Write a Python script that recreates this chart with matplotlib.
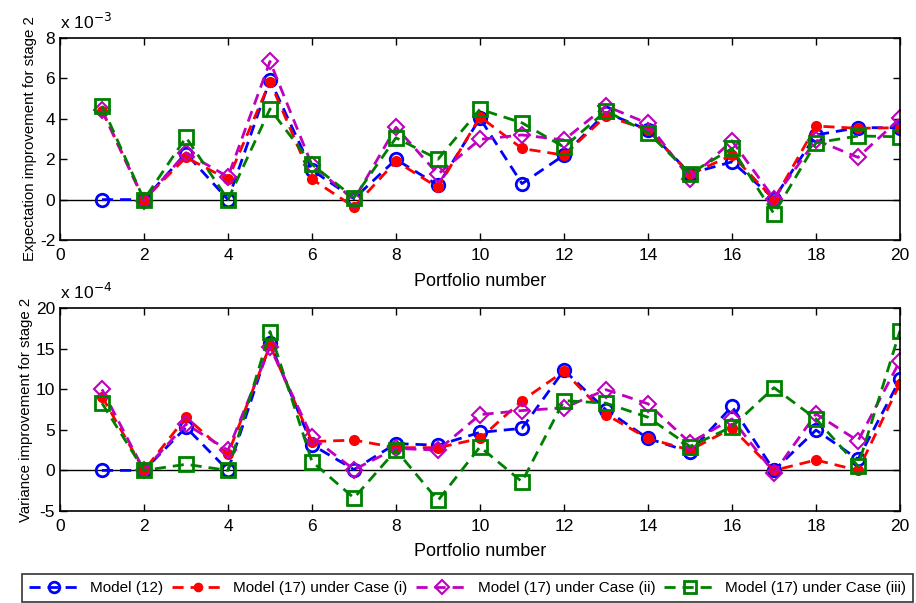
import numpy as np
import matplotlib
matplotlib.use('Agg')
import matplotlib.pyplot as plt

plt.rcParams['font.family'] = ['Liberation Sans', 'DejaVu Sans']
plt.rcParams['axes.unicode_minus'] = False

# Portfolio numbers
portfolio = np.arange(1, 21)

# Expectation improvement for stage 2 (x 1e-3)
exp_m12 = [0.0, 0.0, 2.28, 0.0, 5.93, 1.46, 0.05, 1.99, 0.71, 4.02,
           0.79, 2.2, 4.3, 3.45, 1.29, 1.87, 0.05, 3.2, 3.56, 3.56]
exp_c1 = [4.4, 0.0, 2.09, 1.0, 5.84, 1.01, -0.36, 1.9, 0.6, 4.1,
          2.53, 2.2, 4.14, 3.45, 1.25, 2.2, 0.0, 3.64, 3.53, 3.56]
exp_c2 = [4.44, -0.05, 2.32, 1.13, 6.84, 1.7, 0.0, 3.58, 1.26, 2.98,
          3.2, 2.95, 4.63, 3.77, 1.04, 2.91, 0.05, 2.95, 2.09, 4.02]
exp_c3 = [4.64, 0.0, 3.08, 0.0, 4.49, 1.74, 0.1, 3.06, 2.0, 4.47,
          3.8, 2.6, 4.39, 3.31, 1.29, 2.53, -0.7, 2.81, 3.15, 3.11]

# Variance improvement for stage 2 (x 1e-4)
var_m12 = [0.0, 0.0, 5.3, 0.0, 15.65, 3.15, 0.1, 3.3, 3.1, 4.68,
           5.18, 12.34, 7.45, 3.93, 2.28, 7.87, 0.0, 4.97, 1.37, 11.2]
var_c1 = [9.1, 0.0, 6.54, 2.0, 15.4, 3.55, 3.73, 2.8, 2.8, 3.93,
          8.6, 12.2, 6.87, 3.93, 2.5, 5.2, 0.0, 1.28, 0.0, 10.7]
var_c2 = [9.98, 0.0, 5.7, 2.48, 15.2, 4.1, 0.1, 2.7, 2.5, 6.87,
          7.37, 7.7, 9.94, 8.2, 3.4, 6.34, -0.3, 6.96, 3.64, 13.5]
var_c3 = [8.28, 0.0, 0.75, 0.0, 17.1, 1.08, -3.4, 2.5, -3.7, 2.9,
          -1.4, 8.6, 8.28, 6.54, 2.94, 5.38, 10.19, 6.34, 0.54, 17.2]

labels = ['Model (12)', 'Model (17) under Case (i)',
          'Model (17) under Case (ii)', 'Model (17) under Case (iii)']
styles = [
    dict(color='#0000ff', marker='o', mfc='none', ms=9, mew=2),
    dict(color='#ff0000', marker='o', mfc='#ff0000', ms=7, mew=1),
    dict(color='#bf00bf', marker='D', mfc='none', ms=8, mew=1.5),
    dict(color='#008000', marker='s', mfc='none', ms=10, mew=2),
]

fig = plt.figure(figsize=(9.16, 6.03), dpi=100)
ax1 = fig.add_axes([60/916, 1-240/603, 840/916, 202/603])
ax2 = fig.add_axes([60/916, 1-511/603, 840/916, 203/603])


def draw(ax, series, ylim, yticks, ylabel, expo, lpad):
    ax.axhline(0, color='k', lw=1, zorder=1)
    handles = []
    for s, st in zip(series, styles):
        h, = ax.plot(portfolio, s, ls='--', lw=2, dashes=(4, 2.5), **st)
        handles.append(h)
    ax.set_xlim(0, 20)
    ax.set_ylim(*ylim)
    ax.set_xticks(range(0, 21, 2))
    ax.set_yticks(yticks)
    ax.tick_params(direction='in', top=True, right=True, labelsize=12.5,
                   length=5, width=1)
    ax.tick_params(axis='x', pad=6)
    for sp in ax.spines.values():
        sp.set_linewidth(1.2)
    ax.set_xlabel('Portfolio number', fontsize=13, labelpad=lpad)
    ax.set_ylabel(ylabel, fontsize=10.8, labelpad=2)
    ax.text(0, 1.03, r'x 10$^{%d}$' % expo, transform=ax.transAxes,
            fontsize=12.5, va='bottom', ha='left')
    return handles


draw(ax1, [exp_m12, exp_c1, exp_c2, exp_c3], (-2, 8), range(-2, 9, 2),
     'Expectation improvement for stage 2', -3, 7)
handles = draw(ax2, [var_m12, var_c1, var_c2, var_c3], (-5, 20),
               range(-5, 21, 5), 'Variance improvement for stage 2', -4, 6)

leg = fig.legend(handles, labels, loc='lower center', ncol=4,
                 bbox_to_anchor=(467.5/916, 0.002), fontsize=11,
                 frameon=True, fancybox=False, edgecolor='k',
                 handlelength=3.4, handletextpad=0.6, columnspacing=0.6,
                 borderpad=0.45, borderaxespad=0)
leg.get_frame().set_linewidth(1.2)
for h in leg.legend_handles:
    h.set_markersize(h.get_markersize() * 0.85)

fig.savefig('out.png', dpi=100)
